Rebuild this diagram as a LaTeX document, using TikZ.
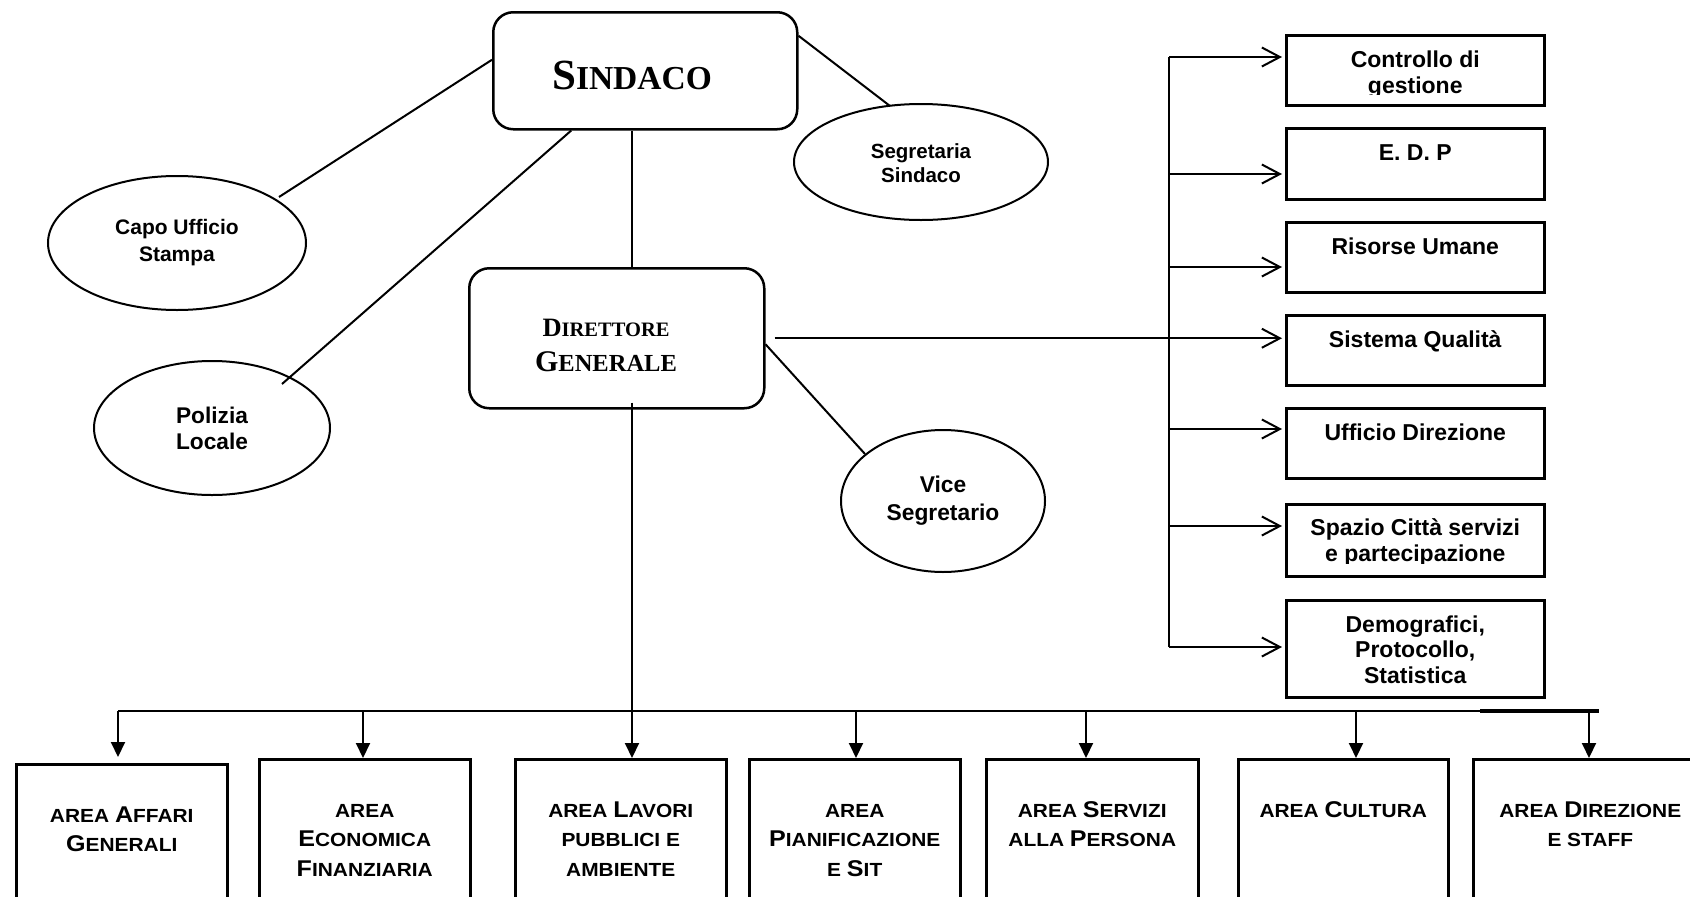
\documentclass[tikz,border=0pt]{standalone}
\usepackage{fontspec}
\setmainfont{Liberation Serif}
\newfontfamily\arialf{Liberation Sans}
\newfontfamily\arialw{Liberation Sans}[FakeStretch=1.1]
\usetikzlibrary{arrows.meta,calc,shapes.geometric}
\newcommand\LG[1]{{\fontsize{22.8}{29.5}\selectfont #1}}
\newcommand\TLG[2]{{\fontsize{#1}{#1}\selectfont #2}}
\begin{document}
\begin{tikzpicture}[x=1pt,y=-1pt,
  conn/.style={line width=2pt},
  rbox/.style={draw, line width=2.5pt, rounded corners=20pt, inner sep=0pt, anchor=north west},
  sbox/.style={draw, line width=2.5pt, inner sep=0pt, anchor=north west},
  ell/.style={draw, ellipse, line width=2pt, inner sep=0pt, align=center},
  stxt/.style={anchor=north, inner sep=0pt, align=center, font=\arialf\bfseries\fontsize{23}{26}\selectfont},
  btxt/.style={anchor=north, inner sep=0pt, align=center, font=\arialw\bfseries\fontsize{19}{29.5}\selectfont},
  ttxt/.style={anchor=base, inner sep=0pt, font=\bfseries},
  openarr/.style={conn, -{Straight Barb[length=18pt,width=19pt,line width=2pt]}},
  fillarr/.style={conn, -{Triangle[length=15pt,width=14pt]}},
]
\useasboundingbox (0,0) rectangle (1690,897);
\clip (0,0) rectangle (1690,897);
\fill[white] (0,0) rectangle (1690,897);

% top boxes
\node[rbox, minimum width=304pt, minimum height=117pt] (sindaco) at (492,11) {};
\node[ttxt] (sindacot) at (632,89) {\TLG{43}{S}\TLG{33.5}{INDACO}};
\node[rbox, minimum width=295pt, minimum height=140pt] (dg) at (468,267) {};
\node[ttxt] (dgt1) at (606,336) {\TLG{26.5}{D}\TLG{20.5}{IRETTORE}};
\node[ttxt] (dgt2) at (606,371) {\TLG{30}{G}\TLG{24.5}{ENERALE}};

% ellipses
\node[ell, minimum width=258pt, minimum height=134pt, font=\arialf\bfseries\fontsize{21}{27}\selectfont] (capo) at (177,243) {Capo Ufficio\\Stampa};
\node[ell, minimum width=236pt, minimum height=134pt, font=\arialf\bfseries\fontsize{22.7}{26}\selectfont] (polizia) at (212,428) {Polizia\\Locale};
\node[ell, minimum width=254pt, minimum height=116pt, font=\arialf\bfseries\fontsize{20.5}{24}\selectfont] (segr) at (921,162) {\rule{0pt}{0pt}\\[-6pt]Segretaria\\Sindaco};
\node[ell, minimum width=204pt, minimum height=142pt, font=\arialf\bfseries\fontsize{22.8}{28}\selectfont] (vice) at (943,501) {Vice\\Segretario};

% connectors top
\draw[conn] ($(sindaco.west)+(0,-11)$) -- ($(capo.center)+(102,-46)$);
\draw[conn] ($(sindaco.south)+(-74,0)$) -- ($(polizia.center)+(70,-44)$);
\draw[conn] ($(sindaco.east)+(0,-35)$) -- ($(segr.center)+(-31,-56)$);
\draw[conn] ($(dg.east)+(0,6)$) -- ($(vice.center)+(-78,-47)$);
\coordinate (vx) at (632,0);
\draw[conn] (vx |- sindaco.south) -- (vx |- dg.north);

% right boxes
\node[sbox, minimum width=258pt, minimum height=70pt] (ctrl) at (1285,34) {};
\node[sbox, minimum width=258pt, minimum height=71pt] (edp) at (1285,127) {};
\node[sbox, minimum width=258pt, minimum height=70pt] (ris) at (1285,221) {};
\node[sbox, minimum width=258pt, minimum height=70pt] (sis) at (1285,314) {};
\node[sbox, minimum width=258pt, minimum height=70pt] (uff) at (1285,407) {};
\node[sbox, minimum width=258pt, minimum height=72pt] (spa) at (1285,503) {};
\node[sbox, minimum width=258pt, minimum height=97pt] (demo) at (1285,599) {};

\begin{scope}
\clip (1287,36) rectangle (1541,94);
\node[stxt] (ctrlt) at ($(ctrl.north)+(0,13)$) {\rule{0pt}{20pt}Controllo di\\gestione};
\end{scope}
\node[stxt] (edpt) at ($(edp.north)+(0,13)$) {\rule{0pt}{20pt}E. D. P};
\node[stxt] (rist) at ($(ris.north)+(0,13)$) {\rule{0pt}{20pt}Risorse Umane};
\node[stxt] (sist) at ($(sis.north)+(0,13)$) {\rule{0pt}{20pt}Sistema Qualità};
\node[stxt] (ufft) at ($(uff.north)+(0,13)$) {\rule{0pt}{20pt}Ufficio Direzione};
\begin{scope}
\clip (1287,505) rectangle (1541,563);
\node[stxt] (spat) at ($(spa.north)+(0,12)$) {\rule{0pt}{20pt}Spazio Città servizi\\e partecipazione};
\end{scope}
\node[stxt, font=\arialf\bfseries\fontsize{23}{25.5}\selectfont] (demot) at ($(demo.north)+(0,13)$) {\rule{0pt}{20pt}Demografici,\\Protocollo,\\Statistica};

% right column connectors
\coordinate (rc) at (1169,57);
\coordinate (re) at (1169,174);
\coordinate (rr) at (1169,267);
\coordinate (ru) at (1169,429);
\coordinate (rs) at (1169,526);
\coordinate (rd) at (1169,647);
\draw[conn] (rc) -- (rd);
\draw[openarr, shorten >=3pt] (rc) -- (rc -| ctrl.west);
\draw[openarr, shorten >=3pt] (re) -- (re -| edp.west);
\draw[openarr, shorten >=3pt] (rr) -- (rr -| ris.west);
\draw[openarr, shorten >=3pt] (ru) -- (ru -| uff.west);
\draw[openarr, shorten >=3pt] (rs) -- (rs -| spa.west);
\draw[openarr, shorten >=3pt] (rd) -- (rd -| demo.west);
\draw[openarr, shorten >=3pt] ($(dg.east)+(9,0)$) -- (dg.east -| sis.west);

% bottom boxes
\node[sbox, minimum width=211pt, minimum height=170pt] (b1) at (15,763) {};
\node[sbox, minimum width=211pt, minimum height=170pt] (b2) at (258,758) {};
\node[sbox, minimum width=211pt, minimum height=170pt] (b3) at (514,758) {};
\node[sbox, minimum width=211pt, minimum height=170pt] (b4) at (748,758) {};
\node[sbox, minimum width=212pt, minimum height=170pt] (b5) at (985,758) {};
\node[sbox, minimum width=210pt, minimum height=170pt] (b6) at (1237,758) {};
\node[sbox, minimum width=234pt, minimum height=170pt] (b7) at (1472,758) {};

\node[btxt] (b1t) at ($(b1.north)+(0,39)$) {\rule{0pt}{20pt}AREA \LG{A}FFARI\\\LG{G}ENERALI};
\node[btxt] (b2t) at ($(b2.north)+(0,39)$) {\rule{0pt}{20pt}AREA\\\LG{E}CONOMICA\\\LG{F}INANZIARIA};
\node[btxt] (b3t) at ($(b3.north)+(0,39)$) {\rule{0pt}{20pt}AREA \LG{L}AVORI\\PUBBLICI E\\AMBIENTE};
\node[btxt] (b4t) at ($(b4.north)+(0,39)$) {\rule{0pt}{20pt}AREA\\\LG{P}IANIFICAZIONE\\E \LG{S}IT};
\node[btxt] (b5t) at ($(b5.north)+(0,39)$) {\rule{0pt}{20pt}AREA \LG{S}ERVIZI\\ALLA \LG{P}ERSONA};
\node[btxt] (b6t) at ($(b6.north)+(0,39)$) {\rule{0pt}{20pt}AREA \LG{C}ULTURA};
\node[btxt] (b7t) at ($(b7.north)+(0,39)$) {\rule{0pt}{20pt}AREA \LG{D}IREZIONE\\E STAFF};

% bottom bus
\coordinate (bus1) at (118,711);
\coordinate (bus2) at (363,711);
\coordinate (bus3) at (632,711);
\coordinate (bus4) at (856,711);
\coordinate (bus5) at (1086,711);
\coordinate (bus6) at (1356,711);
\coordinate (bus7) at (1589,711);
\coordinate (busend) at (1599,711);
\draw[conn] (bus1) -- (busend);
\draw[line width=3.5pt] ($(busend)+(-119,0)$) -- (busend);
\draw[conn] ($(vx |- dg.south)+(0,-7)$) -- (bus3);
\draw[fillarr, shorten >=6pt] (bus1) -- (bus1 |- b1.north);
\draw[fillarr] (bus2) -- (bus2 |- b2.north);
\draw[fillarr] (bus3) -- (bus3 |- b3.north);
\draw[fillarr] (bus4) -- (bus4 |- b4.north);
\draw[fillarr] (bus5) -- (bus5 |- b5.north);
\draw[fillarr] (bus6) -- (bus6 |- b6.north);
\draw[fillarr] (bus7) -- (bus7 |- b7.north);
\end{tikzpicture}
\end{document}
